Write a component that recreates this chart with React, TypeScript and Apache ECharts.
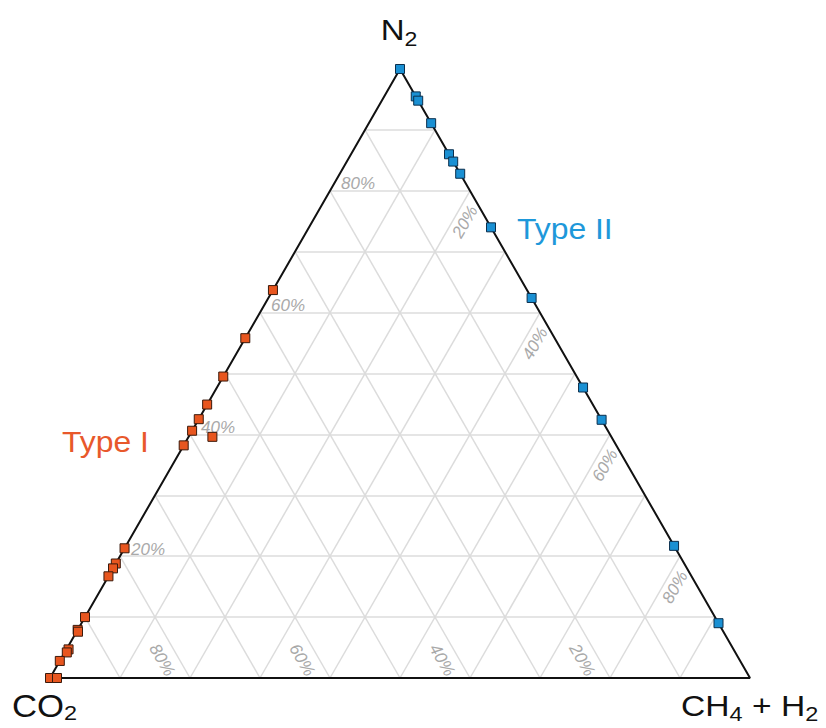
import React, { useEffect, useRef } from "react";
import * as echarts from "echarts";

// Ternary composition (%): N2 and CH4+H2; CO2 = 100 - N2 - CH4
const typeIN2 = [63.7, 55.8, 49.5, 44.9, 42.5, 40.6, 38.2, 39.6, 21.3, 18.8, 18.0, 16.7, 10.0, 7.9, 7.6, 4.7, 4.2, 2.8, 0, 0];
const typeICH4 = [0, 0, 0, 0, 0, 0, 0, 3.4, 0, 0, 0, 0, 0, 0, 0.2, 0.3, 0.3, 0, 0, 1.0];
const typeIIN2 = [100, 95.5, 94.8, 91.1, 86.0, 84.8, 82.8, 74.0, 62.4, 47.7, 42.4, 21.7, 9.0];
const typeIICH4 = [0, 4.5, 5.2, 8.9, 14.0, 15.2, 17.2, 26.0, 37.6, 52.3, 57.6, 78.3, 91.0];

const gridSteps = [10, 20, 30, 40, 50, 60, 70, 80, 90];
const tickValues = [20, 40, 60, 80];
const tickLabels = ["20%", "40%", "60%", "80%"];

const SQ = Math.sqrt(3) / 2;
const toXY = (n2: number, ch4: number): [number, number] => [ch4 + n2 / 2, n2 * SQ];

const ORANGE = "#E8561F";
const BLUE = "#1A90D3";
const FONT = "'Liberation Sans', Arial, Helvetica, sans-serif";

export default function App() {
  const ref = useRef<HTMLDivElement>(null);

  useEffect(() => {
    document.body.style.margin = "0";
    if (!ref.current) return;
    const chart = echarts.init(ref.current, undefined, { renderer: "svg" });

    const gridLines: any[] = [];
    gridSteps.forEach((k) => {
      gridLines.push({ coords: [toXY(k, 0), toXY(k, 100 - k)] }); // constant N2
      gridLines.push({ coords: [toXY(0, k), toXY(100 - k, k)] }); // constant CH4
      gridLines.push({ coords: [toXY(0, 100 - k), toXY(100 - k, 0)] }); // constant CO2
    });

    const outline = [toXY(0, 0), toXY(0, 100), toXY(100, 0), toXY(0, 0)];

    const typeIData = typeIN2.map((n, i) => toXY(n, typeICH4[i]));
    const typeIIData = typeIIN2.map((n, i) => toXY(n, typeIICH4[i]));

    const tickStyle = {
      fill: "#a9a9a9",
      fontSize: 17,
      fontStyle: "italic",
      fontFamily: FONT,
      align: "center",
      verticalAlign: "middle",
    };

    const makeTickSeries = (pts: [number, number][], dx: number, dy: number, rot: number) => ({
      type: "custom",
      silent: true,
      z: 3,
      data: pts,
      renderItem: (params: any, api: any) => {
        const p = api.coord([api.value(0), api.value(1)]);
        return {
          type: "text",
          x: p[0] + dx,
          y: p[1] + dy,
          rotation: rot,
          style: { ...tickStyle, text: tickLabels[params.dataIndex] },
        };
      },
    });

    // N2 share on the left side, CH4+H2 share on the right side, CO2 share on the bottom
    const leftTicks = tickValues.map((v) => toXY(v, 0));
    const rightTicks = tickValues.map((v) => toXY(100 - v, v));
    const bottomTicks = tickValues.map((v) => toXY(0, 100 - v));

    const richTitle = (size: number, sub: number) => ({
      a: { fontSize: size, fontFamily: FONT, lineHeight: size, verticalAlign: "top", fill: "#111" },
      b: { fontSize: 21, fontFamily: FONT, lineHeight: 21, padding: [sub, 0, 0, 0], verticalAlign: "top", fill: "#111" },
    });

    chart.setOption({
      animation: false,
      grid: { left: 50, right: 76, top: 69, bottom: 50 },
      xAxis: { type: "value", min: 0, max: 100, show: false },
      yAxis: { type: "value", min: 0, max: 100 * SQ, show: false },
      series: [
        {
          type: "lines",
          coordinateSystem: "cartesian2d",
          silent: true,
          z: 1,
          lineStyle: { color: "#dcdcdc", width: 1.5, opacity: 1 },
          data: gridLines,
        },
        makeTickSeries(leftTicks, 28, -7, 0),
        makeTickSeries(rightTicks, -5, 31, Math.PI / 3),
        makeTickSeries(bottomTicks, -28, -18, -Math.PI / 3),
        {
          type: "line",
          silent: true,
          z: 4,
          data: outline,
          symbol: "none",
          lineStyle: { color: "#111", width: 2 },
        },
        {
          type: "scatter",
          name: "Type I",
          z: 5,
          symbol: "rect",
          symbolSize: 9,
          itemStyle: { color: ORANGE, borderColor: "#3b1a0c", borderWidth: 1, opacity: 1 },
          data: typeIData,
        },
        {
          type: "scatter",
          name: "Type II",
          z: 5,
          symbol: "rect",
          symbolSize: 9,
          itemStyle: { color: BLUE, borderColor: "#0b2f4d", borderWidth: 1, opacity: 1 },
          data: typeIIData,
        },
      ],
      graphic: [
        {
          type: "text",
          x: 399,
          y: 29.5,
          scaleX: 1.1,
          style: {
            text: "{a|N}{b|2}",
            align: "center",
            verticalAlign: "middle",
            fill: "#111",
            rich: richTitle(30, 14),
          },
        },
        {
          type: "text",
          x: 12,
          y: 706,
          scaleX: 1.12,
          style: {
            text: "{a|CO}{b|2}",
            align: "left",
            verticalAlign: "middle",
            fill: "#111",
            rich: richTitle(31, 12),
          },
        },
        {
          type: "text",
          x: 681,
          y: 706,
          scaleX: 1.12,
          style: {
            text: "{a|CH}{b|4}{a| + H}{b|2}",
            align: "left",
            verticalAlign: "middle",
            fill: "#111",
            rich: richTitle(30, 12),
          },
        },
        {
          type: "text",
          x: 62,
          y: 442,
          scaleX: 1.1,
          style: { text: "Type I", fill: "#E8582B", fontSize: 29, fontFamily: FONT, align: "left", verticalAlign: "middle" },
        },
        {
          type: "text",
          x: 517,
          y: 229,
          scaleX: 1.1,
          style: { text: "Type II", fill: "#1E98DA", fontSize: 29, fontFamily: FONT, align: "left", verticalAlign: "middle" },
        },
      ],
    });

    return () => chart.dispose();
  }, []);

  return <div ref={ref} style={{ width: 826, height: 728 }} />;
}
